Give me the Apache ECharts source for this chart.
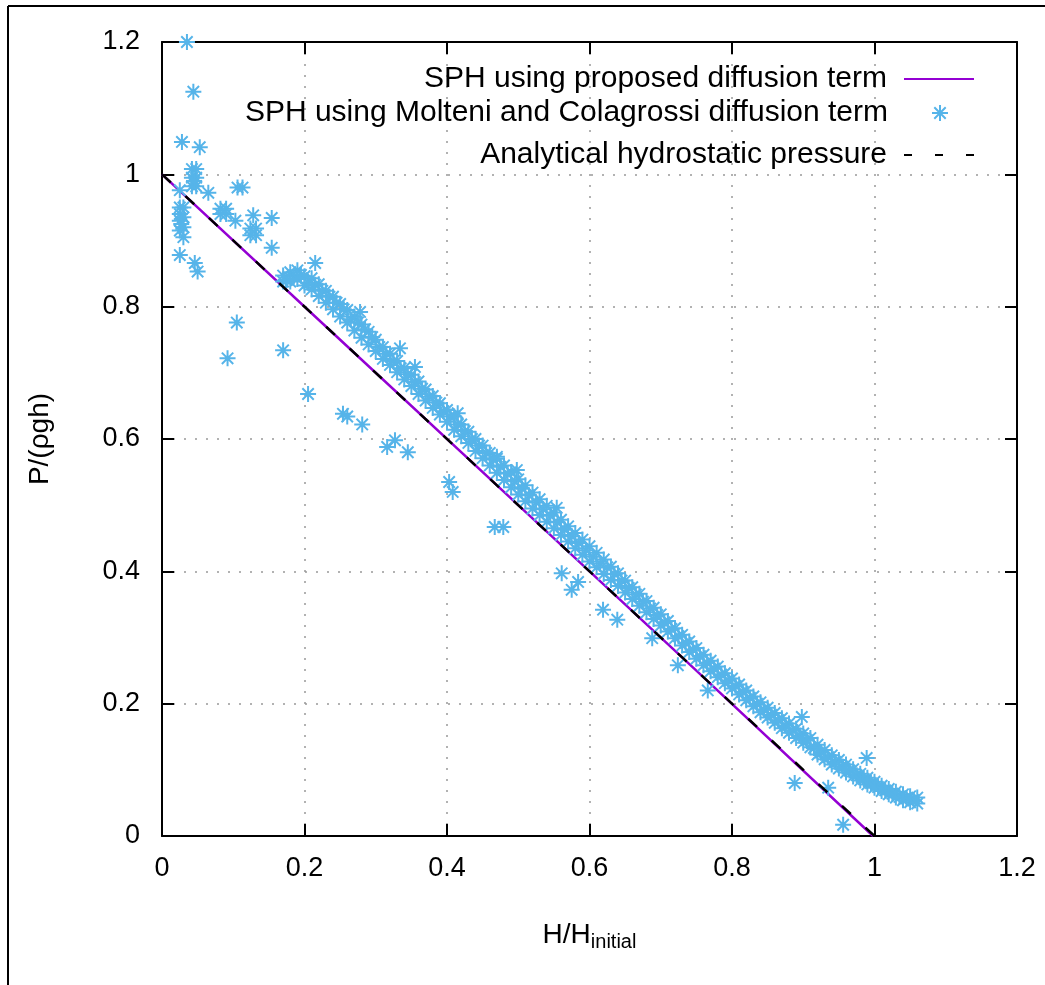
<!DOCTYPE html>
<html>
<head>
<meta charset="utf-8">
<script src="https://cdn.jsdelivr.net/npm/echarts@6/dist/echarts.min.js"></script>
<style>
  html, body { margin: 0; padding: 0; background: #fff; }
  #chart { width: 1045px; height: 985px; }
</style>
</head>
<body>
<div id="chart"></div>
<script>
// axis ticks
const X_TICKS = [0, 0.2, 0.4, 0.6, 0.8, 1, 1.2];
const Y_TICKS = [0, 0.2, 0.4, 0.6, 0.8, 1, 1.2];

// SPH using proposed diffusion term (lies on the analytic line)
const proposedLine = [[0, 1], [0.25, 0.75], [0.5, 0.5], [0.75, 0.25], [0.998, 0]];

// Analytical hydrostatic pressure
const analyticLine = [[0, 1], [1, 0]];

// Molteni & Colagrossi: dense band just above the analytic line (x, upper y, lower y)
const bandX = [
  0.17, 0.18, 0.19, 0.20, 0.21, 0.22, 0.23, 0.24, 0.25, 0.26, 0.27, 0.28, 0.29, 0.30,
  0.31, 0.32, 0.33, 0.34, 0.35, 0.36, 0.37, 0.38, 0.39, 0.40, 0.41, 0.42, 0.43, 0.44,
  0.45, 0.46, 0.47, 0.48, 0.49, 0.50, 0.51, 0.52, 0.53, 0.54, 0.55, 0.56, 0.57, 0.58,
  0.59, 0.60, 0.61, 0.62, 0.63, 0.64, 0.65, 0.66, 0.67, 0.68, 0.69, 0.70, 0.71, 0.72,
  0.73, 0.74, 0.75, 0.76, 0.77, 0.78, 0.79, 0.80, 0.81, 0.82, 0.83, 0.84, 0.85, 0.86,
  0.87, 0.88, 0.89, 0.90, 0.91, 0.92, 0.93, 0.94, 0.95, 0.96, 0.97, 0.98, 0.99, 1.00,
  1.01, 1.02, 1.03, 1.04, 1.05, 1.06
];
const bandUpper = [
  0.847, 0.852, 0.855, 0.846, 0.843, 0.834, 0.824, 0.815, 0.804, 0.795, 0.785, 0.773, 0.762, 0.750,
  0.739, 0.729, 0.718, 0.707, 0.697, 0.687, 0.675, 0.665, 0.654, 0.644, 0.634, 0.622, 0.611, 0.600,
  0.590, 0.579, 0.570, 0.560, 0.550, 0.539, 0.530, 0.519, 0.509, 0.499, 0.489, 0.478, 0.468, 0.458,
  0.448, 0.438, 0.428, 0.418, 0.407, 0.397, 0.386, 0.376, 0.366, 0.355, 0.345, 0.335, 0.325, 0.314,
  0.304, 0.294, 0.284, 0.274, 0.265, 0.256, 0.246, 0.238, 0.229, 0.220, 0.211, 0.202, 0.194, 0.186,
  0.178, 0.170, 0.162, 0.155, 0.148, 0.138, 0.130, 0.122, 0.115, 0.108, 0.101, 0.094, 0.088, 0.082,
  0.076, 0.071, 0.067, 0.063, 0.060, 0.058
];
const bandLower = [
  0.838, 0.838, 0.842, 0.832, 0.826, 0.816, 0.806, 0.796, 0.785, 0.776, 0.764, 0.753, 0.743, 0.733,
  0.721, 0.712, 0.701, 0.690, 0.680, 0.668, 0.658, 0.647, 0.637, 0.626, 0.614, 0.604, 0.594, 0.582,
  0.571, 0.560, 0.549, 0.538, 0.527, 0.516, 0.506, 0.495, 0.485, 0.475, 0.465, 0.455, 0.445, 0.435,
  0.425, 0.415, 0.406, 0.396, 0.387, 0.378, 0.368, 0.358, 0.348, 0.338, 0.328, 0.318, 0.309, 0.299,
  0.288, 0.278, 0.268, 0.258, 0.249, 0.240, 0.231, 0.223, 0.214, 0.205, 0.196, 0.187, 0.179, 0.171,
  0.163, 0.156, 0.148, 0.141, 0.134, 0.123, 0.116, 0.108, 0.102, 0.096, 0.090, 0.084, 0.078, 0.073,
  0.068, 0.063, 0.058, 0.054, 0.051, 0.049
];
// a third, staggered row filling the band
const bandMidX = [
  0.175, 0.185, 0.195, 0.205, 0.215, 0.225, 0.235, 0.245, 0.255, 0.265, 0.275, 0.285, 0.295, 0.305,
  0.315, 0.325, 0.335, 0.345, 0.355, 0.365, 0.375, 0.385, 0.395, 0.405, 0.415, 0.425, 0.435, 0.445,
  0.455, 0.465, 0.475, 0.485, 0.495, 0.505, 0.515, 0.525, 0.535, 0.545, 0.555, 0.565, 0.575, 0.585,
  0.595, 0.605, 0.615, 0.625, 0.635, 0.645, 0.655, 0.665, 0.675, 0.685, 0.695, 0.705, 0.715, 0.725,
  0.735, 0.745, 0.755, 0.765, 0.775, 0.785, 0.795, 0.805, 0.815, 0.825, 0.835, 0.845, 0.855, 0.865,
  0.875, 0.885, 0.895, 0.905, 0.915, 0.925, 0.935, 0.945, 0.955, 0.965, 0.975, 0.985, 0.995, 1.005,
  1.015, 1.025, 1.035, 1.045, 1.055
];
const bandMid = [
  0.840, 0.846, 0.848, 0.836, 0.833, 0.824, 0.815, 0.806, 0.796, 0.781, 0.776, 0.766, 0.754, 0.739,
  0.729, 0.718, 0.707, 0.698, 0.686, 0.676, 0.664, 0.655, 0.642, 0.634, 0.622, 0.612, 0.600, 0.590,
  0.579, 0.569, 0.558, 0.548, 0.536, 0.525, 0.515, 0.504, 0.494, 0.484, 0.474, 0.463, 0.453, 0.443,
  0.432, 0.422, 0.412, 0.406, 0.396, 0.386, 0.375, 0.365, 0.354, 0.344, 0.334, 0.323, 0.313, 0.302,
  0.292, 0.282, 0.272, 0.262, 0.253, 0.244, 0.235, 0.227, 0.218, 0.209, 0.200, 0.191, 0.183, 0.175,
  0.167, 0.160, 0.152, 0.145, 0.133, 0.126, 0.119, 0.112, 0.105, 0.099, 0.092, 0.086, 0.080, 0.074,
  0.069, 0.064, 0.059, 0.057, 0.054
];

// Molteni & Colagrossi: clusters near the free surface and scattered outliers
const scatterPoints = [
  [0.035, 1.2], [0.044, 1.125], [0.028, 1.049], [0.053, 1.041],
  [0.042, 1.008], [0.048, 1.008], [0.042, 0.995], [0.048, 0.995], [0.042, 0.982], [0.048, 0.982], [0.045, 0.99],
  [0.025, 0.976], [0.065, 0.972],
  [0.025, 0.95], [0.03, 0.95], [0.025, 0.94], [0.03, 0.935], [0.025, 0.93], [0.03, 0.92],
  [0.025, 0.915], [0.03, 0.905], [0.027, 0.925],
  [0.025, 0.878], [0.046, 0.866], [0.05, 0.853],
  [0.106, 0.98], [0.113, 0.98],
  [0.082, 0.948], [0.09, 0.948], [0.082, 0.94], [0.09, 0.94], [0.103, 0.93],
  [0.128, 0.938], [0.154, 0.934],
  [0.124, 0.918], [0.132, 0.918], [0.124, 0.908], [0.132, 0.908],
  [0.154, 0.889],
  [0.105, 0.776], [0.092, 0.722], [0.17, 0.734],
  [0.215, 0.866], [0.278, 0.792], [0.334, 0.737], [0.355, 0.709],
  [0.415, 0.639], [0.47, 0.573], [0.498, 0.553], [0.554, 0.496],
  [0.205, 0.668], [0.254, 0.638], [0.26, 0.634], [0.281, 0.622],
  [0.316, 0.588], [0.327, 0.598], [0.345, 0.58],
  [0.403, 0.535], [0.408, 0.52], [0.467, 0.467], [0.479, 0.467],
  [0.561, 0.397], [0.584, 0.384], [0.575, 0.372],
  [0.619, 0.342], [0.639, 0.327], [0.688, 0.299], [0.724, 0.258], [0.766, 0.22],
  [0.898, 0.18], [0.888, 0.08], [0.935, 0.073], [0.989, 0.118], [0.956, 0.017]
];

const molteniPoints = scatterPoints
  .concat(bandX.map((x, i) => [x, bandUpper[i]]))
  .concat(bandMidX.map((x, i) => [x, bandMid[i]]))
  .concat(bandX.map((x, i) => [x, bandLower[i]]));

const SERIES_NAMES = [
  'SPH using proposed diffusion term',
  'SPH using Molteni and Colagrossi diffusion term',
  'Analytical hydrostatic pressure'
];

// eight-armed asterisk, like gnuplot point type 3
const STAR =
  'path://M-8,-1L8,-1L8,1L-8,1Z' +
  'M-1,-8L1,-8L1,8L-1,8Z' +
  'M-6.4,-5L-5,-6.4L6.4,5L5,6.4Z' +
  'M5,-6.4L6.4,-5L-5,6.4L-6.4,5Z';

const FONT = 'Liberation Sans, Arial, sans-serif';
const AXIS_COLOR = '#000';

const chart = echarts.init(document.getElementById('chart'), null, { renderer: 'canvas' });

const baseAxis = {
  type: 'value',
  min: 0,
  max: 1.2,
  interval: 0.2,
  axisLine: { show: true, onZero: false, lineStyle: { color: AXIS_COLOR, width: 2 } },
  axisTick: { show: true, inside: true, length: 12, lineStyle: { color: AXIS_COLOR, width: 2 } },
};

const legendCommon = {
  orient: 'vertical',
  right: 70,
  align: 'right',
  itemWidth: 70,
  padding: 0,
  textStyle: { fontFamily: FONT, fontSize: 30, color: '#000', padding: [0, 12, 0, 0] },
};

chart.setOption({
  backgroundColor: '#fff',
  animation: false,
  grid: { left: 162, right: 28, top: 42, bottom: 149 },
  xAxis: [
    {
      ...baseAxis,
      position: 'bottom',
      axisLabel: {
        color: '#000', fontFamily: FONT, fontSize: 27, margin: 19,
        formatter: (v) => (X_TICKS.includes(+v.toFixed(1)) ? String(+v.toFixed(1)) : ''),
      },
      splitLine: { show: true, lineStyle: { color: '#999', width: 1.5, type: [2, 9] } },
      name: 'H/H{sub|initial}',
      nameLocation: 'middle',
      nameGap: 82,
      nameTextStyle: {
        color: '#000', fontFamily: FONT, fontSize: 28,
        rich: { sub: { fontFamily: FONT, fontSize: 20, color: '#000', verticalAlign: 'bottom', padding: [14, 0, 0, 0] } },
      },
    },
    {
      ...baseAxis,
      position: 'top',
      axisLabel: { show: false },
      splitLine: { show: false },
    },
  ],
  yAxis: [
    {
      ...baseAxis,
      position: 'left',
      axisLabel: {
        color: '#000', fontFamily: FONT, fontSize: 27, margin: 22,
        formatter: (v) => (Y_TICKS.includes(+v.toFixed(1)) ? String(+v.toFixed(1)) : ''),
      },
      splitLine: { show: true, lineStyle: { color: '#999', width: 1.5, type: [2, 9] } },
      name: 'P/(ρgh)',
      nameLocation: 'middle',
      nameGap: 108,
      nameRotate: 90,
      nameTextStyle: { color: '#000', fontFamily: FONT, fontSize: 28 },
    },
    {
      ...baseAxis,
      position: 'right',
      axisLabel: { show: false },
      splitLine: { show: false },
    },
  ],
  legend: [
    {
      ...legendCommon, top: 64, itemHeight: 24,
      itemStyle: { opacity: 0 },
      data: [SERIES_NAMES[0]],
    },
    {
      ...legendCommon, top: 98, right: 97, itemWidth: 16, itemHeight: 16,
      textStyle: { ...legendCommon.textStyle, padding: [0, 39, 0, 0] },
      data: [SERIES_NAMES[1]],
    },
    {
      ...legendCommon, top: 140, itemHeight: 24,
      itemStyle: { opacity: 0 },
      lineStyle: { type: [8, 23], width: 2 },
      data: [SERIES_NAMES[2]],
    },
  ],
  graphic: [
    { type: 'line', shape: { x1: 8, y1: 985, x2: 8, y2: 6 }, style: { stroke: '#000', lineWidth: 2 } },
    { type: 'line', shape: { x1: 8, y1: 6, x2: 1045, y2: 6 }, style: { stroke: '#000', lineWidth: 2 } },
  ],
  series: [
    {
      name: SERIES_NAMES[0],
      type: 'line',
      data: proposedLine,
      symbol: 'none',
      lineStyle: { color: '#9400d3', width: 2.5 },
      itemStyle: { color: '#9400d3' },
      z: 2,
    },
    {
      name: SERIES_NAMES[1],
      type: 'scatter',
      data: molteniPoints,
      symbol: STAR,
      symbolSize: 16,
      itemStyle: { color: '#56b4e9', opacity: 1 },
      z: 3,
    },
    {
      name: SERIES_NAMES[2],
      type: 'line',
      data: analyticLine,
      symbol: 'none',
      lineStyle: { color: '#000', width: 2.5, type: [12, 20] },
      itemStyle: { color: '#000' },
      z: 4,
    },
  ],
});
</script>
</body>
</html>
